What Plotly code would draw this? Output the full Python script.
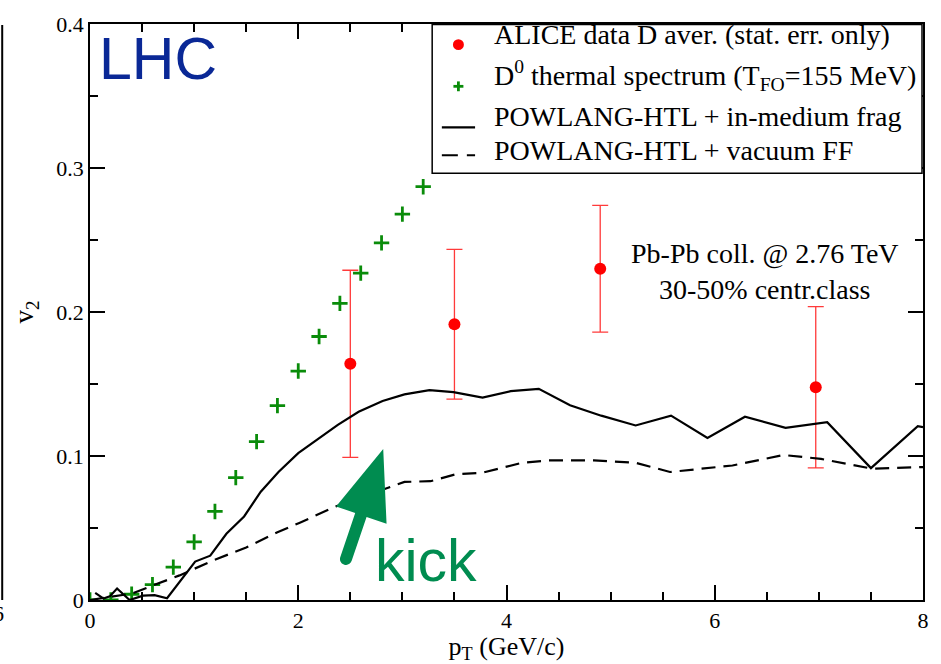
import plotly.graph_objects as go

# ALICE D-meson average v2 (stat. errors only)
alice_pt = [2.5, 3.5, 4.9, 6.97]
alice_v2 = [0.164, 0.1915, 0.230, 0.1477]
alice_err = [0.065, 0.052, 0.044, 0.056]

# D0 thermal spectrum, T_FO = 155 MeV
thermal_pt = [0.0, 0.2, 0.4, 0.6, 0.8, 1.0, 1.2, 1.4, 1.6, 1.8, 2.0, 2.2, 2.4, 2.6, 2.8, 3.0, 3.2]
thermal_v2 = [0.0, 0.0, 0.004, 0.0107, 0.0228, 0.0403, 0.0615, 0.085, 0.110, 0.135,
              0.159, 0.183, 0.206, 0.227, 0.248, 0.268, 0.287]

# POWLANG-HTL + in-medium fragmentation
inmed_pt = [0.05, 0.13, 0.19, 0.26, 0.38, 0.51, 0.62, 0.74, 1.01, 1.155, 1.31, 1.48, 1.64,
            1.81, 2.0, 2.18, 2.38, 2.58, 2.81, 3.02, 3.26, 3.49, 3.77, 4.04, 4.31, 4.61,
            4.91, 5.24, 5.58, 5.93, 6.29, 6.68, 7.08, 7.5, 7.95, 8.0]
inmed_v2 = [0.005, 0.001, 0.0025, 0.008, 0.0, 0.003, 0.0034, 0.0012, 0.0267, 0.0308, 0.046,
            0.058, 0.0752, 0.0889, 0.102, 0.111, 0.1216, 0.1307, 0.1382, 0.1428, 0.1457,
            0.1443, 0.1405, 0.145, 0.1466, 0.1352, 0.128, 0.1212, 0.128, 0.1125, 0.1273,
            0.1196, 0.1235, 0.0916, 0.1207, 0.120]

# POWLANG-HTL + vacuum fragmentation functions
vac_pt = [0.0, 0.2, 0.41, 0.61, 0.86, 1.18, 1.5, 1.8, 2.01, 2.36, 2.84, 3.02, 3.27, 3.51,
          3.77, 4.15, 4.4, 4.84, 5.24, 5.57, 6.17, 6.66, 7.02, 7.51, 8.0]
vac_v2 = [0.0, 0.002, 0.0046, 0.0103, 0.0171, 0.0274, 0.0365, 0.047, 0.0535, 0.065, 0.0775,
          0.082, 0.0825, 0.0873, 0.0884, 0.0953, 0.0969, 0.0969, 0.0953, 0.0889, 0.0934,
          0.1007, 0.098, 0.0912, 0.0923]

x_ticks = [0, 2, 4, 6, 8]
y_ticks = [0, 0.1, 0.2, 0.3, 0.4]

legend_labels = [
    "ALICE data D aver. (stat. err. only)",
    "D<sup>0</sup> thermal spectrum (T<sub>FO</sub>=155 MeV)",
    "POWLANG-HTL + in-medium frag",
    "POWLANG-HTL + vacuum FF",
]

SERIF = "Liberation Serif"
SANS = "Liberation Sans"
RED = "#ff0000"
GREEN = "#0a8c0a"
GREEN_ARROW = "#008c50"

W, H = 941, 664
ML, MR, MT, MB = 90, 16, 15, 64
PLOT_W, PLOT_H = W - ML - MR, H - MT - MB


def px(xpix):
    """Page pixel column -> paper fraction."""
    return (xpix - ML) / PLOT_W


def py(ypix):
    """Page pixel row -> paper fraction."""
    return (H - MB - ypix) / PLOT_H


fig = go.Figure()

fig.add_trace(go.Scatter(
    x=alice_pt, y=alice_v2, mode="markers", name=legend_labels[0],
    marker=dict(symbol="circle", size=12, color=RED),
    error_y=dict(type="data", array=alice_err, visible=True,
                 color="#ff3a3a", thickness=1.3, width=8),
))

fig.add_trace(go.Scatter(
    x=thermal_pt, y=thermal_v2, mode="markers", name=legend_labels[1],
    marker=dict(symbol="cross-thin", size=11, color=GREEN,
                line=dict(width=2.8, color=GREEN)),
))

fig.add_trace(go.Scatter(
    x=inmed_pt, y=inmed_v2, mode="lines", name=legend_labels[2],
    line=dict(color="black", width=2.2),
))

fig.add_trace(go.Scatter(
    x=vac_pt, y=vac_v2, mode="lines", name=legend_labels[3],
    line=dict(color="black", width=2.2, dash="14px,8px"),
))

axis_common = dict(
    showline=True, linecolor="black", linewidth=1.5, mirror="ticks",
    ticks="inside", ticklen=15, tickwidth=1.5, tickcolor="black",
    showgrid=False, zeroline=False,
    tickfont=dict(family=SERIF, size=22, color="black"),
)

fig.update_xaxes(
    range=[0, 8], tickvals=x_ticks, ticktext=[str(v) for v in x_ticks],
    minor=dict(dtick=0.5, ticks="inside", ticklen=8, tickwidth=1.5, tickcolor="black"),
    title=dict(text="p<sub>T</sub> (GeV/c)", font=dict(family=SERIF, size=26, color="black"),
               standoff=0),
    **axis_common,
)
fig.update_yaxes(
    range=[0, 0.4], tickvals=y_ticks, ticktext=["0", "0.1", "0.2", "0.3", "0.4"],
    minor=dict(dtick=0.05, ticks="inside", ticklen=8, tickwidth=1.5, tickcolor="black"),
    title=dict(text="v<sub>2</sub>", font=dict(family=SERIF, size=27, color="black"),
               standoff=15),
    **axis_common,
)

# ---- legend box drawn by hand (upper right of the frame) ----
fig.add_shape(type="rect", xref="paper", yref="paper",
              x0=px(433), x1=px(924), y0=py(166.5), y1=py(15.5),
              fillcolor="white", line=dict(color="black", width=1.5), layer="above")
# key: red dot
fig.add_shape(type="circle", xref="paper", yref="paper",
              x0=px(453.8), x1=px(464.8), y0=py(41.5), y1=py(30.5),
              fillcolor=RED, line=dict(width=0), layer="above")
# key: green plus
fig.add_shape(type="line", xref="paper", yref="paper",
              x0=px(454.3), x1=px(464.3), y0=py(78.3), y1=py(78.3),
              line=dict(color=GREEN, width=2.8), layer="above")
fig.add_shape(type="line", xref="paper", yref="paper",
              x0=px(459.3), x1=px(459.3), y0=py(73.3), y1=py(83.3),
              line=dict(color=GREEN, width=2.8), layer="above")
# key: solid line
fig.add_shape(type="line", xref="paper", yref="paper",
              x0=px(442.7), x1=px(476), y0=py(120), y1=py(120),
              line=dict(color="black", width=2.2), layer="above")
# key: dashed line
fig.add_shape(type="line", xref="paper", yref="paper",
              x0=px(442.7), x1=px(476), y0=py(148.3), y1=py(148.3),
              line=dict(color="black", width=2.2, dash="16px,9px"), layer="above")

legend_text_rows = [26, 67, 109, 143]
for label, row in zip(legend_labels, legend_text_rows):
    fig.add_annotation(x=px(493), y=py(row), xref="paper", yref="paper", text=label,
                       showarrow=False, xanchor="left", yanchor="middle",
                       font=dict(family=SERIF, size=28, color="black"))

# ---- "kick" arrow: filled outline with a rounded tail ----
arrow_path = ("M2.816,0.1048 L2.848,0.0529 L2.656,0.0576 L2.513,0.0272 "
              "C2.489,0.0220 2.380,0.0246 2.404,0.0298 L2.547,0.0604 L2.363,0.065 Z")
fig.add_shape(type="path", xref="x", yref="y", path=arrow_path,
              fillcolor=GREEN_ARROW, line=dict(width=0), layer="above")

# neighbouring panel edge on the far left
fig.add_shape(type="line", xref="paper", yref="paper",
              x0=px(2), x1=px(2), y0=py(600), y1=py(16),
              line=dict(color="black", width=2))
fig.add_annotation(x=px(6), y=py(614), xref="paper", yref="paper", text="6",
                   showarrow=False, xanchor="right", yanchor="middle",
                   font=dict(family=SERIF, size=22, color="black"))

fig.add_annotation(x=0.07, y=0.376, xref="x", yref="y", text="LHC",
                   showarrow=False, xanchor="left", yanchor="middle",
                   font=dict(family=SANS, size=59, color="#0a2896"))

fig.add_annotation(x=3.225, y=0.027, xref="x", yref="y", text="kick",
                   showarrow=False, xanchor="center", yanchor="middle",
                   font=dict(family=SANS, size=59, color=GREEN_ARROW))

fig.add_annotation(x=6.48, y=0.228, xref="x", yref="y",
                   text="Pb-Pb coll. @ 2.76 TeV<br>30-50% centr.class",
                   showarrow=False, xanchor="center", yanchor="middle", align="center",
                   font=dict(family=SERIF, size=28, color="black"))

fig.update_layout(
    width=W, height=H,
    margin=dict(l=ML, r=MR, t=MT, b=MB),
    paper_bgcolor="white", plot_bgcolor="white",
    showlegend=False,
)

fig.write_html("out.html")
